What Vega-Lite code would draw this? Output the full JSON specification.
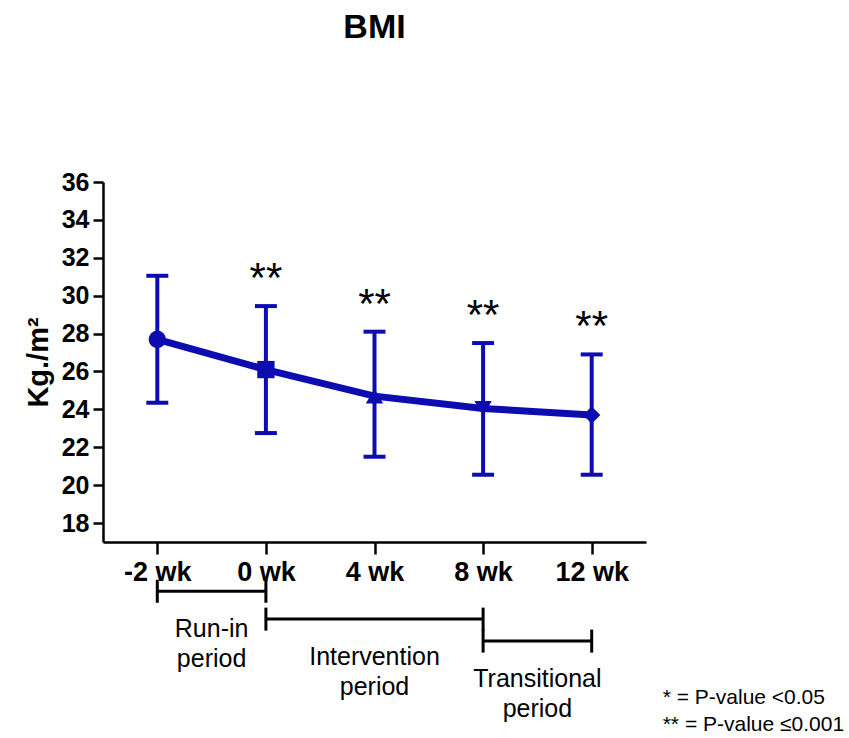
{
  "$schema": "https://vega.github.io/schema/vega-lite/v6.json",
  "width": 543,
  "height": 360,
  "autosize": {"type": "none"},
  "padding": {"left": 103, "top": 182, "right": 203, "bottom": 196},
  "title": {
    "text": "BMI",
    "font": "Liberation Sans",
    "fontSize": 34,
    "fontWeight": "bold",
    "color": "black",
    "anchor": "middle",
    "frame": "group",
    "offset": 125
  },
  "config": {
    "view": {"stroke": null},
    "font": "Liberation Sans",
    "axis": {
      "grid": false,
      "domainColor": "black",
      "domainWidth": 2.5,
      "tickColor": "black",
      "tickWidth": 2.5,
      "labelColor": "black",
      "labelFont": "Liberation Sans",
      "labelFontWeight": "bold",
      "labelOverlap": false,
      "titleColor": "black",
      "titleFont": "Liberation Sans"
    }
  },
  "datasets": {
    "bmi": [
      {"week": "-2 wk", "mean": 27.7, "lower": 24.35, "upper": 31.05, "sig": ""},
      {"week": "0 wk", "mean": 26.1, "lower": 22.75, "upper": 29.45, "sig": "**"},
      {"week": "4 wk", "mean": 24.7, "lower": 21.5, "upper": 28.1, "sig": "**"},
      {"week": "8 wk", "mean": 24.05, "lower": 20.55, "upper": 27.5, "sig": "**"},
      {"week": "12 wk", "mean": 23.7, "lower": 20.55, "upper": 26.9, "sig": "**"}
    ],
    "periods": [
      {"period": "Run-in\nperiod", "from": "-2 wk", "to": "0 wk", "steps": 1, "level": 14.4},
      {"period": "Intervention\nperiod", "from": "0 wk", "to": "8 wk", "steps": 2, "level": 12.93},
      {"period": "Transitional\nperiod", "from": "8 wk", "to": "12 wk", "steps": 1, "level": 11.77}
    ]
  },
  "layer": [
    {
      "data": {"name": "bmi"},
      "mark": {"type": "rule", "color": "#0c0cb0", "strokeWidth": 4},
      "encoding": {
        "x": {
          "field": "week",
          "type": "nominal",
          "title": null,
          "scale": {"type": "point", "domain": ["-2 wk", "0 wk", "4 wk", "8 wk", "12 wk"], "padding": 0.5},
          "axis": {"labelAngle": 0, "labelFontSize": 27, "tickSize": 12, "labelPadding": 5}
        },
        "y": {
          "field": "lower",
          "type": "quantitative",
          "scale": {"domain": [17, 36], "nice": false, "zero": false},
          "axis": {
            "values": [18, 20, 22, 24, 26, 28, 30, 32, 34, 36],
            "tickCount": 10,
            "labelOverlap": false,
            "labelFontSize": 25,
            "tickSize": 10,
            "labelPadding": 4,
            "title": "Kg./m²",
            "titleFontSize": 29,
            "titleFontWeight": "bold",
            "titlePadding": 8
          }
        },
        "y2": {"field": "upper"}
      }
    },
    {
      "data": {"name": "bmi"},
      "transform": [{"fold": ["lower", "upper"], "as": ["bound", "value"]}],
      "mark": {"type": "tick", "orient": "horizontal", "color": "#0c0cb0", "opacity": 1, "size": 22, "thickness": 4},
      "encoding": {
        "x": {"field": "week", "type": "nominal", "title": null},
        "y": {"field": "value", "type": "quantitative"}
      }
    },
    {
      "data": {"name": "bmi"},
      "mark": {"type": "line", "color": "#0c0cb0", "strokeWidth": 7},
      "encoding": {
        "x": {"field": "week", "type": "nominal", "title": null},
        "y": {"field": "mean", "type": "quantitative"}
      }
    },
    {
      "data": {"name": "bmi"},
      "mark": {"type": "point", "filled": true, "opacity": 1, "color": "#0c0cb0", "size": 300},
      "encoding": {
        "x": {"field": "week", "type": "nominal", "title": null},
        "y": {"field": "mean", "type": "quantitative"},
        "shape": {
          "field": "week",
          "type": "nominal",
          "legend": null,
          "scale": {
            "domain": ["-2 wk", "0 wk", "4 wk", "8 wk", "12 wk"],
            "range": ["circle", "square", "triangle-up", "triangle-down", "diamond"]
          }
        }
      }
    },
    {
      "data": {"name": "bmi"},
      "transform": [{"filter": "datum.sig != ''"}],
      "mark": {"type": "text", "fontSize": 42, "color": "black", "baseline": "alphabetic", "dy": -14},
      "encoding": {
        "x": {"field": "week", "type": "nominal", "title": null},
        "y": {"field": "upper", "type": "quantitative"},
        "text": {"field": "sig"}
      }
    },
    {
      "data": {"name": "periods"},
      "mark": {"type": "rule", "color": "black", "strokeWidth": 3, "clip": false},
      "encoding": {
        "x": {"field": "from", "type": "nominal", "title": null},
        "x2": {"field": "to"},
        "y": {"field": "level", "type": "quantitative"}
      }
    },
    {
      "data": {"name": "periods"},
      "transform": [{"fold": ["from", "to"], "as": ["end", "at"]}],
      "mark": {"type": "tick", "orient": "vertical", "color": "black", "opacity": 1, "size": 23, "thickness": 3, "clip": false},
      "encoding": {
        "x": {"field": "at", "type": "nominal", "title": null},
        "y": {"field": "level", "type": "quantitative"}
      }
    },
    {
      "data": {"name": "periods"},
      "mark": {"type": "text", "fontSize": 25, "color": "black", "lineBreak": "\n", "lineHeight": 30, "baseline": "middle", "dy": 38, "clip": false},
      "encoding": {
        "x": {"field": "from", "type": "nominal", "title": null},
        "xOffset": {"field": "steps", "type": "quantitative", "scale": {"domain": [0, 2], "range": [0, 108.6]}},
        "y": {"field": "level", "type": "quantitative"},
        "text": {"field": "period"}
      }
    },
    {
      "data": {"values": [{}]},
      "mark": {"type": "text", "fontSize": 21, "color": "black", "align": "left", "baseline": "middle", "lineHeight": 27, "dx": 71, "clip": false},
      "encoding": {
        "x": {"datum": "12 wk"},
        "y": {"datum": 8.75},
        "text": {"value": ["* = P-value <0.05", "** = P-value ≤0.001"]}
      }
    }
  ]
}
